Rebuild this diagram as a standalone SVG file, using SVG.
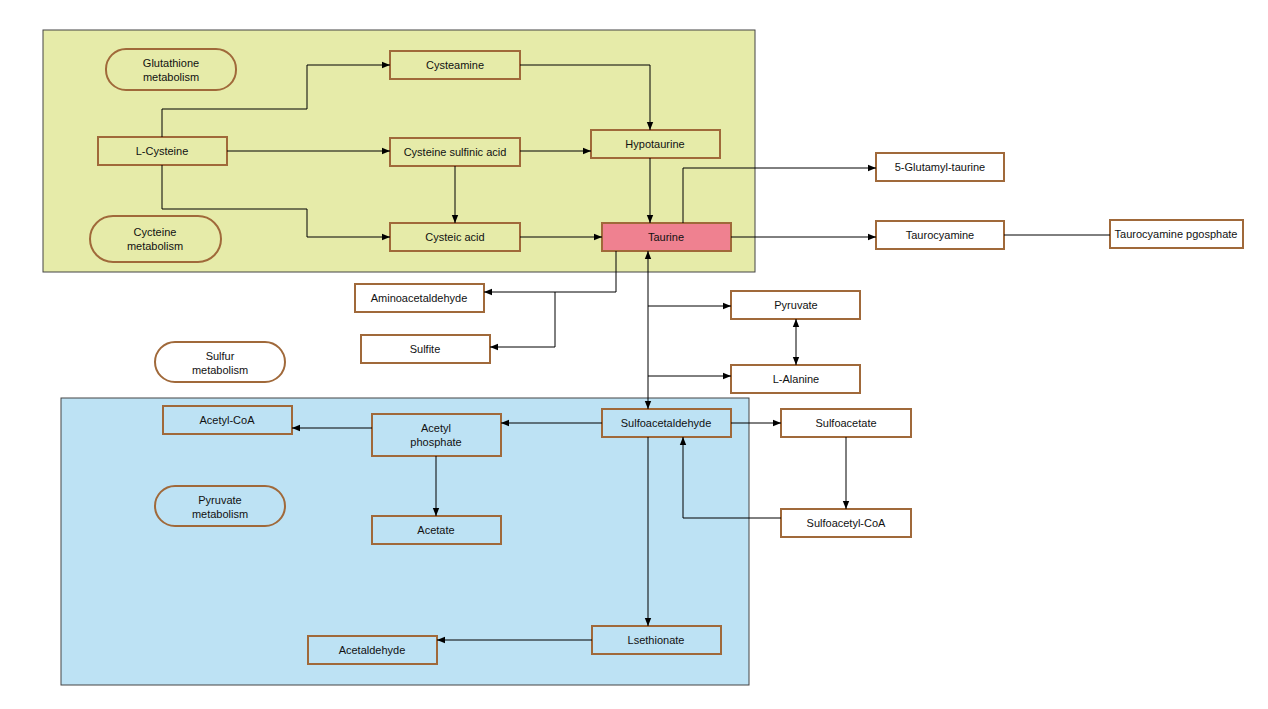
<svg xmlns="http://www.w3.org/2000/svg" width="1268" height="709" viewBox="0 0 1268 709">
<defs>
<marker id="a" viewBox="0 0 10 10" refX="10" refY="5" markerWidth="8" markerHeight="8" orient="auto-start-reverse"><path d="M0,1 L10,5 L0,9 z" fill="#000"/></marker>
<style>
.n{fill:#fff;stroke:#a0693a;stroke-width:2}
.p{fill:none;stroke:#a0693a;stroke-width:2}
text{font-family:"Liberation Sans",Arial,sans-serif;font-size:11px;fill:#111;text-anchor:middle}
.c path{fill:none;stroke:#000;stroke-width:1}
</style>
</defs>
<rect width="1268" height="709" fill="#fff"/>
<rect x="43" y="30" width="712" height="242" fill="#e6eba9" stroke="#444" stroke-width="1"/>
<rect x="61" y="398" width="688" height="287" fill="#bde2f4" stroke="#444" stroke-width="1"/>
<g id="glutathione"><rect class="p" x="106" y="49" width="130" height="41" rx="20"/><text x="171" y="67">Glutathione</text><text x="171" y="81">metabolism</text></g>
<g id="cycteine"><rect class="p" x="90" y="216" width="131" height="46" rx="23"/><text x="155" y="236">Cycteine</text><text x="155" y="250">metabolism</text></g>
<g id="sulfur"><rect class="n" x="155" y="342" width="130" height="40" rx="20"/><text x="220" y="360">Sulfur</text><text x="220" y="374">metabolism</text></g>
<g id="pyrmet"><rect class="p" x="155" y="486" width="130" height="40" rx="20"/><text x="220" y="504">Pyruvate</text><text x="220" y="518">metabolism</text></g>
<g id="lcys"><rect class="p" x="98" y="137" width="129" height="28"/><text x="162" y="155">L-Cysteine</text></g>
<g id="cysteamine"><rect class="p" x="390" y="51" width="130" height="28"/><text x="455" y="69">Cysteamine</text></g>
<g id="csa"><rect class="p" x="390" y="138" width="130" height="28"/><text x="455" y="156">Cysteine sulfinic acid</text></g>
<g id="hypotaurine"><rect class="p" x="591" y="130" width="129" height="28"/><text x="655" y="148">Hypotaurine</text></g>
<g id="cysteic"><rect class="p" x="390" y="223" width="130" height="28"/><text x="455" y="241">Cysteic acid</text></g>
<g id="taurine"><rect x="602" y="223" width="129" height="28" fill="#ef8190" stroke="#a0693a" stroke-width="2"/><text x="666" y="241">Taurine</text></g>
<g id="glutamyl"><rect class="n" x="876" y="153" width="128" height="28"/><text x="940" y="171">5-Glutamyl-taurine</text></g>
<g id="taurocyamine"><rect class="n" x="876" y="221" width="128" height="28"/><text x="940" y="239">Taurocyamine</text></g>
<g id="taurocyp"><rect class="n" x="1110" y="220" width="133" height="28"/><text x="1176" y="238">Taurocyamine pgosphate</text></g>
<g id="amino"><rect class="n" x="355" y="284" width="129" height="28"/><text x="419" y="302">Aminoacetaldehyde</text></g>
<g id="sulfite"><rect class="n" x="361" y="335" width="129" height="28"/><text x="425" y="353">Sulfite</text></g>
<g id="pyruvate"><rect class="n" x="731" y="291" width="129" height="28"/><text x="796" y="309">Pyruvate</text></g>
<g id="alanine"><rect class="n" x="731" y="365" width="129" height="28"/><text x="796" y="383">L-Alanine</text></g>
<g id="sulfoald"><rect class="p" x="602" y="409" width="129" height="28"/><text x="666" y="427">Sulfoacetaldehyde</text></g>
<g id="sulfoacetate"><rect class="n" x="781" y="409" width="130" height="28"/><text x="846" y="427">Sulfoacetate</text></g>
<g id="sulfocoa"><rect class="n" x="781" y="509" width="130" height="28"/><text x="846" y="527">Sulfoacetyl-CoA</text></g>
<g id="acetylcoa"><rect class="p" x="163" y="406" width="129" height="28"/><text x="227" y="424">Acetyl-CoA</text></g>
<g id="acetylp"><rect class="p" x="372" y="414" width="129" height="42"/><text x="436" y="432">Acetyl</text><text x="436" y="446">phosphate</text></g>
<g id="acetate"><rect class="p" x="372" y="516" width="129" height="28"/><text x="436" y="534">Acetate</text></g>
<g id="lseth"><rect class="p" x="592" y="626" width="129" height="28"/><text x="656" y="644">Lsethionate</text></g>
<g id="acetaldehyde"><rect class="p" x="308" y="636" width="129" height="28"/><text x="372" y="654">Acetaldehyde</text></g>
<g class="c" id="connectors">
<path d="M162,137 V109 H307 V65 H390" marker-end="url(#a)"/>
<path d="M227,151 H390" marker-end="url(#a)"/>
<path d="M162,165 V209 H307 V237 H390" marker-end="url(#a)"/>
<path d="M520,65 H650 V130" marker-end="url(#a)"/>
<path d="M520,151 H591" marker-end="url(#a)"/>
<path d="M455,166 V223" marker-end="url(#a)"/>
<path d="M520,237 H602" marker-end="url(#a)"/>
<path d="M650,158 V223" marker-end="url(#a)"/>
<path d="M683,223 V168 H876" marker-end="url(#a)"/>
<path d="M731,237 H876" marker-end="url(#a)"/>
<path d="M1004,235 H1110"/>
<path d="M616,251 V292 H484" marker-end="url(#a)"/>
<path d="M555,292 V347 H490" marker-end="url(#a)"/>
<path d="M648,251 V409" marker-start="url(#a)" marker-end="url(#a)"/>
<path d="M648,306 H731" marker-end="url(#a)"/>
<path d="M648,376 H731" marker-end="url(#a)"/>
<path d="M796,319 V365" marker-start="url(#a)" marker-end="url(#a)"/>
<path d="M602,423 H501" marker-end="url(#a)"/>
<path d="M372,428 H292" marker-end="url(#a)"/>
<path d="M436,456 V516" marker-end="url(#a)"/>
<path d="M731,423 H781" marker-end="url(#a)"/>
<path d="M846,437 V509" marker-end="url(#a)"/>
<path d="M781,518 H683 V437" marker-end="url(#a)"/>
<path d="M648,437 V626" marker-end="url(#a)"/>
<path d="M592,640 H437" marker-end="url(#a)"/>
</g>
</svg>
